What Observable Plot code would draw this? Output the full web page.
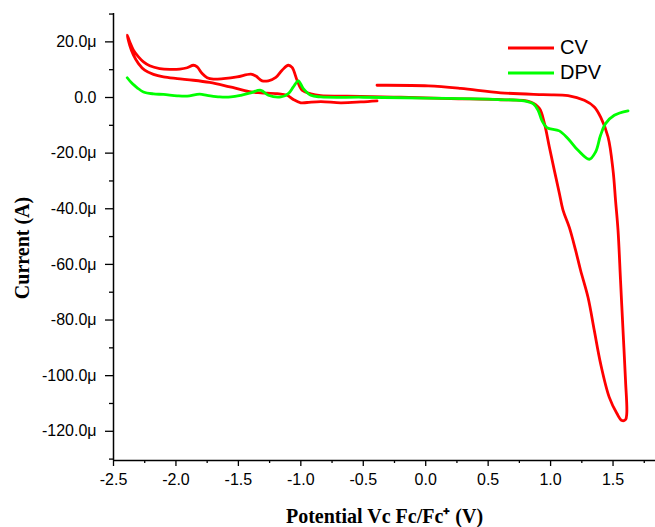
<!DOCTYPE html>
<html>
<head>
<meta charset="utf-8">
<script src="https://cdn.jsdelivr.net/npm/d3@7"></script>
<script src="https://cdn.jsdelivr.net/npm/@observablehq/plot@0.6"></script>
<style>
  html, body { margin: 0; padding: 0; background: white; }
  #wrap { position: relative; width: 655px; height: 527px; }
  #legend { position: absolute; left: 507px; top: 35px; font-family: "Liberation Sans", Arial, sans-serif; font-size: 20px; color: #000; }
  #legend .row { display: flex; align-items: center; height: 25px; }
  #legend svg { display: block; margin-right: 5px; }
</style>
</head>
<body>
<div id="wrap"><div id="legend"></div></div>
<script>
// CV scan (potential V vs Fc/Fc+, current in µA), in scan order
const cvPotential = [
  -0.39, 0.02, 0.28, 0.60, 0.94, 1.14, 1.27, 1.35, 1.40, 1.46, 1.50, 1.52, 1.54, 1.56, 1.58, 1.60, 1.61, 1.60, 1.57, 1.53,
  1.47, 1.40, 1.35, 1.30, 1.24, 1.20, 1.15, 1.10, 1.07, 1.03, 0.99, 0.95, 0.91, 0.84, 0.60, 0.20, -0.20, -0.52, -0.68, -0.84,
  -0.92, -0.99, -1.03, -1.07, -1.10, -1.15, -1.20, -1.26, -1.31, -1.36, -1.40, -1.51, -1.62, -1.70, -1.75, -1.79, -1.83, -1.86,
  -1.91, -1.97, -2.05, -2.13, -2.21, -2.26, -2.30, -2.34, -2.37, -2.39,
  -2.37, -2.34, -2.30, -2.25, -2.18, -2.10, -1.99, -1.86, -1.73, -1.62, -1.51, -1.40, -1.32, -1.19, -1.11, -1.06, -1.00,
  -0.95, -0.84, -0.68, -0.52, -0.39
];
const cvCurrent = [
  4.4, 4.2, 3.3, 1.7, 1.0, 0.7, -1.0, -3.4, -7.0, -14.2, -26.2, -37.0, -47.8, -65.8, -83.8, -101.8, -113.6, -115.8, -116.1, -113.5,
  -107.8, -95.6, -83.8, -71.9, -62.1, -54.9, -46.7, -40.6, -34.4, -26.2, -17.8, -9.2, -3.9, -1.6, -0.8, -0.4, 0.1, 0.4, 0.5, 0.65,
  1.3, 2.6, 6.2, 10.8, 11.6, 9.8, 7.2, 6.0, 6.0, 7.7, 8.4, 7.4, 6.8, 6.6, 7.1, 8.6, 11.0, 11.6,
  10.7, 10.2, 10.1, 10.4, 11.4, 12.8, 14.6, 17.0, 20.0, 22.4,
  18.8, 15.2, 12.2, 9.8, 8.3, 7.4, 6.8, 6.2, 5.4, 4.4, 3.2, 2.0, 1.7, 1.4, 0.8, -0.7, -1.9,
  -1.8, -1.5, -1.9, -1.6, -1.2
];
// DPV
const dpvPotential = [
  -2.39, -2.35, -2.31, -2.26, -2.18, -2.10, -1.99, -1.91, -1.81, -1.75, -1.65, -1.56, -1.48, -1.40, -1.32, -1.26, -1.16,
  -1.10, -1.06, -1.02, -0.98, -0.92, -0.84, -0.50, 0.00, 0.50, 0.70, 0.80, 0.86, 0.90, 0.93, 0.97, 1.07, 1.14, 1.22, 1.31,
  1.36, 1.40, 1.44, 1.51, 1.62
];
const dpvCurrent = [
  7.1, 5.0, 3.5, 2.0, 1.3, 1.1, 0.6, 0.5, 1.2, 0.8, 0.2, 0.2, 0.8, 1.7, 2.6, 0.8, 0.2,
  1.4, 3.8, 6.0, 3.2, 0.8, 0.2, 0.1, -0.2, -0.6, -0.9, -1.3, -2.2, -4.6, -8.2, -10.8, -12.0, -14.8, -19.0, -22.2,
  -19.6, -13.6, -9.4, -6.4, -4.8
];
const xMajorTicks = [-2.5, -2.0, -1.5, -1.0, -0.5, 0.0, 0.5, 1.0, 1.5];
const xMinorTicks = [-2.25, -1.75, -1.25, -0.75, -0.25, 0.25, 0.75, 1.25, 1.75];
const yMajorTicks = [20, 0, -20, -40, -60, -80, -100, -120];
const yMinorTicks = [30, 10, -10, -30, -50, -70, -90, -110, -130];
const seriesNames = ["CV", "DPV"];
const seriesColors = ["#ff0000", "#00ff00"];
const xDomain = [-2.5, 1.84];
const yDomain = [-130.5, 30.2];

const cv = cvPotential.map((x, i) => ({x, y: cvCurrent[i]}));
const dpv = dpvPotential.map((x, i) => ({x, y: dpvCurrent[i]}));
const yFmt = d => d === 0 ? "0.0" : d.toFixed(1) + "\u03bc";
const titleFont = "'Liberation Serif', 'Times New Roman', serif";

const chart = Plot.plot({
  width: 655, height: 527,
  marginLeft: 113, marginRight: 0, marginTop: 13, marginBottom: 67,
  x: {domain: xDomain, label: null},
  y: {domain: yDomain, label: null},
  style: {fontFamily: "'Liberation Sans', Arial, sans-serif", fontSize: "16px", color: "#000", background: "white", overflow: "visible"},
  marks: [
    Plot.line(cv, {x: "x", y: "y", stroke: seriesColors[0], strokeWidth: 2.8, curve: "catmull-rom"}),
    Plot.line(dpv, {x: "x", y: "y", stroke: seriesColors[1], strokeWidth: 2.8, curve: "catmull-rom"}),
    Plot.axisX(xMajorTicks, {tickSize: 6, tickPadding: 7, tickFormat: d => d.toFixed(1), strokeWidth: 1.3, label: null, fontSize: 16}),
    Plot.axisX(xMinorTicks, {tickSize: 3, tickFormat: () => "", strokeWidth: 1.3, label: null}),
    Plot.axisY(yMajorTicks, {tickSize: 8, tickPadding: 9, tickFormat: yFmt, strokeWidth: 1.3, label: null, fontSize: 16}),
    Plot.axisY(yMinorTicks, {tickSize: 4, tickFormat: () => "", strokeWidth: 1.3, label: null}),
    Plot.ruleX([xDomain[0]], {strokeWidth: 1.5}),
    Plot.ruleY([yDomain[0]], {strokeWidth: 1.5}),
    Plot.text(["Current (A)"], {frameAnchor: "left", rotate: -90, dx: -91, dy: 11, textAnchor: "middle", lineAnchor: "middle", fontFamily: titleFont, fontWeight: "bold", fontSize: 20}),
    Plot.text(["Potential Vc Fc/Fc\u207a (V)"], {frameAnchor: "bottom", dy: 56, lineAnchor: "middle", fontFamily: titleFont, fontWeight: "bold", fontSize: 20})
  ]
});
document.getElementById("wrap").prepend(chart);

const legend = document.getElementById("legend");
seriesNames.forEach((name, i) => {
  const row = document.createElement("div");
  row.className = "row";
  row.innerHTML = `<svg width="48" height="6"><line x1="1" y1="3" x2="47" y2="3" stroke="${seriesColors[i]}" stroke-width="3.2"/></svg><span>${name}</span>`;
  legend.appendChild(row);
});
</script>
</body>
</html>
